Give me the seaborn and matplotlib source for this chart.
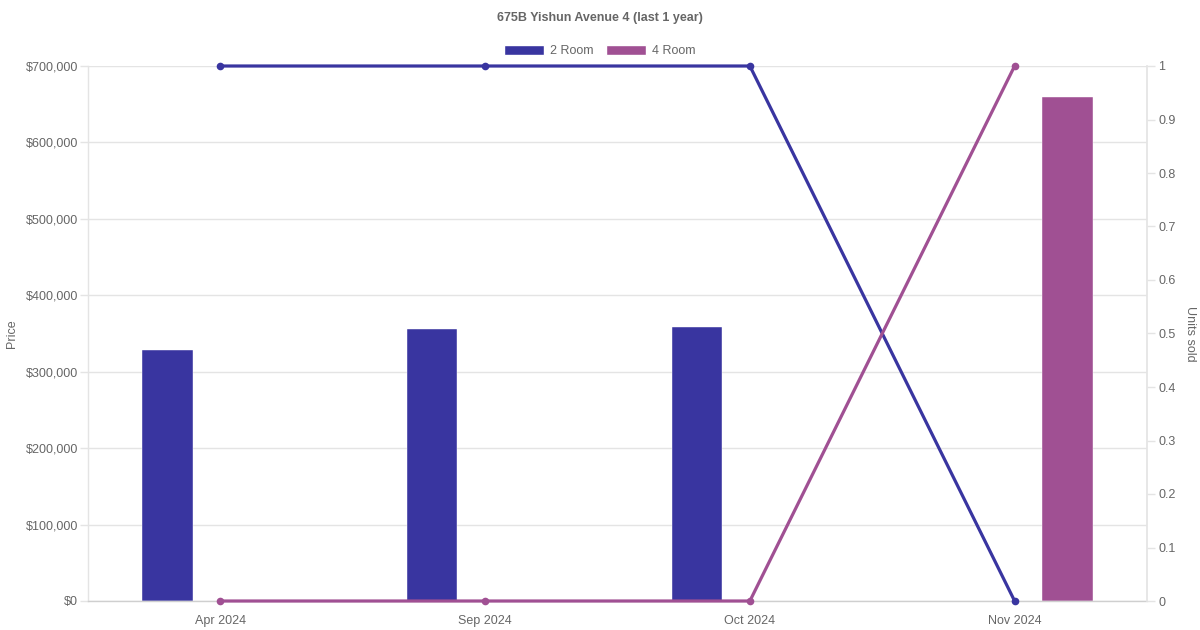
import matplotlib
matplotlib.use("Agg")
import matplotlib.pyplot as plt
import matplotlib.ticker as mticker
from matplotlib.patches import Patch
import numpy as np
import pandas as pd
import seaborn as sns

months = ["Apr 2024", "Sep 2024", "Oct 2024", "Nov 2024"]
flat_types = ["2 Room", "4 Room"]
price_2room = [329000, 356500, 359000, np.nan]
price_4room = [np.nan, np.nan, np.nan, 659000]
units_2room = [1, 1, 1, 0]
units_4room = [0, 0, 0, 1]

colors = {"2 Room": "#3935a0", "4 Room": "#a05093"}
grey = "#666666"
grid = "#e4e4e4"

prices = pd.DataFrame({
    "month": months * 2,
    "type": ["2 Room"] * len(months) + ["4 Room"] * len(months),
    "price": price_2room + price_4room,
})
units = pd.DataFrame({
    "pos": list(np.arange(len(months))) * 2,
    "type": ["2 Room"] * len(months) + ["4 Room"] * len(months),
    "units": units_2room + units_4room,
})

sns.set_theme(style="white")
plt.rcParams["font.family"] = ["Liberation Sans", "DejaVu Sans"]

fig = plt.figure(figsize=(12, 6.3), dpi=100)
ax = fig.add_axes([88 / 1200, 1 - 601 / 630, (1147 - 88) / 1200, (601 - 66) / 630])

sns.barplot(data=prices, x="month", y="price", hue="type", hue_order=flat_types,
            order=months, palette=colors, width=0.8, gap=0.525, saturation=1,
            legend=False, ax=ax, zorder=2)
for p in ax.patches:
    p.set_edgecolor("white")
    p.set_linewidth(0.3)

ax.set_xlim(-0.5, len(months) - 0.5)
ax.set_ylim(0, 700000)
ax.yaxis.set_major_locator(mticker.MultipleLocator(100000))
ax.yaxis.set_major_formatter(mticker.FuncFormatter(lambda v, _: f"${v:,.0f}"))
ax.grid(axis="y", color=grid, linewidth=1, zorder=0)
ax.set_axisbelow(True)
ax.set_xlabel("")
ax.set_ylabel("Price", color=grey, fontsize=9, labelpad=6)
ax.tick_params(axis="y", colors=grid, labelcolor=grey, labelsize=9, length=6, width=1, pad=1, left=True)
ax.tick_params(axis="x", colors=grid, labelcolor=grey, labelsize=9, length=0, pad=10)
for side in ["top", "right"]:
    ax.spines[side].set_visible(False)
for side in ["left", "bottom"]:
    ax.spines[side].set_color(grid)
    ax.spines[side].set_linewidth(1)
ax.spines["bottom"].set_color("#cfcfcf")

ax2 = ax.twinx()
sns.lineplot(data=units, x="pos", y="units", hue="type", hue_order=flat_types,
             palette=colors, linewidth=2.3, marker="o", markersize=5.5,
             markeredgewidth=0, legend=False, ax=ax2, clip_on=False, zorder=3)
ax2.set_ylim(0, 1)
ax2.set_xlim(-0.5, len(months) - 0.5)
ax2.yaxis.set_major_locator(mticker.MultipleLocator(0.1))
ax2.yaxis.set_major_formatter(mticker.FuncFormatter(lambda v, _: f"{round(v, 1):g}"))
ax2.set_ylabel("Units sold", color=grey, fontsize=9, rotation=270, labelpad=15)
ax2.set_xlabel("")
ax2.tick_params(axis="y", colors=grid, labelcolor=grey, labelsize=9, length=6, width=1, pad=2, right=True)
for side in ["top", "left", "bottom"]:
    ax2.spines[side].set_visible(False)
ax2.spines["right"].set_color(grid)
ax2.set_xticks(np.arange(len(months)))
ax.set_xticks(np.arange(len(months)))
ax.set_xticklabels(months)

fig.text(0.5, 1 - 18 / 630, "675B Yishun Avenue 4 (last 1 year)", ha="center", va="center",
         fontsize=9, fontweight="bold", color=grey)
handles = [Patch(facecolor=colors[t], edgecolor="white", label=t) for t in flat_types]
fig.legend(handles=handles, loc="center", bbox_to_anchor=(0.5, 1 - 51 / 630), ncol=2,
           frameon=False, fontsize=9, labelcolor=grey, handlelength=3.2, handleheight=0.95,
           handletextpad=0.5, columnspacing=1.0)

fig.savefig("out.png", dpi=100)
